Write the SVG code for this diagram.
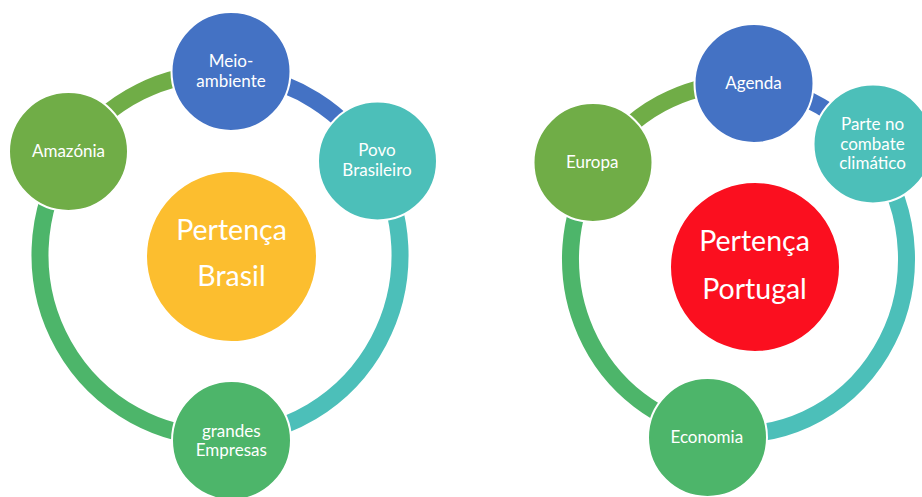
<svg xmlns="http://www.w3.org/2000/svg" width="922" height="497" viewBox="0 0 922 497">
<style>
.ring{fill:none;stroke-width:17}
.node{stroke:#fff;stroke-width:2}
.lbl{font-family:Lato,"Open Sans",sans-serif;font-size:17px;fill:#fff;text-anchor:middle}
.big{font-family:Lato,"Open Sans",sans-serif;font-size:28.5px;fill:#fff;text-anchor:middle}
</style>
<rect width="922" height="497" fill="#fff"/>
<g id="connectors">
<path class="ring" stroke="#4DB56A" d="M231,436.7 A180,182 0 0,1 70.8,153.2"/>
<path class="ring" stroke="#70AD47" d="M70.8,153.2 A180,182 0 0,1 231,73.3"/>
<path class="ring" stroke="#4472C4" d="M231,73.3 A180,182 0 0,1 375.9,164"/>
<path class="ring" stroke="#4CBFB9" d="M375.9,164 A180,182 0 0,1 231,436.7"/>
<path class="ring" stroke="#4DB56A" d="M707.5,431 A168,175 0 0,1 593,171.5"/>
<path class="ring" stroke="#70AD47" d="M593,171.5 A168,175 0 0,1 754,84.7"/>
<path class="ring" stroke="#4472C4" d="M754,84.7 A168,175 0 0,1 872.9,154"/>
<path class="ring" stroke="#4CBFB9" d="M872.9,154 A168,175 0 0,1 707.5,431"/>
</g>
<g id="brasil-center"><circle class="node" cx="231.5" cy="256.5" r="85.5" fill="#FCBE2F"/>
<text class="big" x="231.5" y="239.5">Pertença</text><text class="big" x="231.5" y="286">Brasil</text></g>
<g id="meio-ambiente"><circle class="node" cx="231" cy="71.5" r="59.5" fill="#4472C4"/>
<text class="lbl" x="231" y="66.7">Meio-</text><text class="lbl" x="231" y="86.7">ambiente</text></g>
<g id="amazonia"><circle class="node" cx="68.5" cy="151.5" r="59.5" fill="#70AD47"/>
<text class="lbl" x="68.5" y="156.7">Amazónia</text></g>
<g id="povo-brasileiro"><circle class="node" cx="377.5" cy="161" r="59.5" fill="#4CBFB9"/>
<text class="lbl" x="377" y="156">Povo</text><text class="lbl" x="377" y="175.5">Brasileiro</text></g>
<g id="grandes-empresas"><circle class="node" cx="231.5" cy="440.5" r="59.5" fill="#4DB56A"/>
<text class="lbl" x="231.3" y="436.7">grandes</text><text class="lbl" x="231.3" y="456">Empresas</text></g>
<g id="portugal-center"><circle class="node" cx="755" cy="267" r="85" fill="#FB0F1F"/>
<text class="big" x="754.5" y="250.7">Pertença</text><text class="big" x="754.5" y="299.3">Portugal</text></g>
<g id="agenda"><circle class="node" cx="754" cy="83.5" r="59.5" fill="#4472C4"/>
<text class="lbl" x="753.5" y="89.3">Agenda</text></g>
<g id="europa"><circle class="node" cx="593" cy="162.5" r="59.5" fill="#70AD47"/>
<text class="lbl" x="592.3" y="168.3">Europa</text></g>
<g id="parte-no-combate"><circle class="node" cx="873" cy="144" r="59.5" fill="#4CBFB9"/>
<text class="lbl" x="872.5" y="130">Parte no</text><text class="lbl" x="872.5" y="149.5">combate</text><text class="lbl" x="872.5" y="169.3">climático</text></g>
<g id="economia"><circle class="node" cx="707.5" cy="437.5" r="59.5" fill="#4DB56A"/>
<text class="lbl" x="706.8" y="443.3">Economia</text></g>
</svg>
